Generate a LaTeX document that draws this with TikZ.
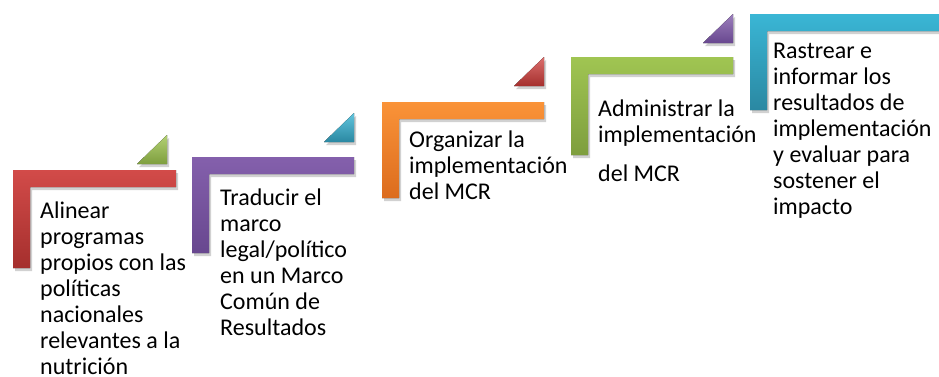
\documentclass[tikz,border=0pt]{standalone}
\usepackage{fontspec}
\setmainfont{Carlito}
\usetikzlibrary{shadows}
\definecolor{redT}{HTML}{D24B49}\definecolor{redB}{HTML}{A52F2D}
\definecolor{purT}{HTML}{8460AC}\definecolor{purB}{HTML}{68478F}
\definecolor{oraT}{HTML}{FA9338}\definecolor{oraB}{HTML}{DC6C1E}
\definecolor{griT}{HTML}{A0C552}\definecolor{griB}{HTML}{7E9E3E}
\definecolor{cyaT}{HTML}{3AB6D5}\definecolor{cyaB}{HTML}{2A88A2}
\tikzset{
  corner/.style={draw=none, drop shadow={shadow xshift=2pt, shadow yshift=-3pt, opacity=0.3, fill=black!60}},
  tri/.style={draw=none, drop shadow={shadow xshift=2pt, shadow yshift=-3pt, opacity=0.3, fill=black!60}},
  label/.style={anchor=base west, inner sep=0pt, font=\fontsize{24}{26}\selectfont}
}
\newcommand{\stepL}[5]{% x0,y0,x1,y1,colorname
  \fill[corner, top color=#5T, bottom color=#5B] (#1,#2) -- (#3,#2) -- (#3,#2+17) -- (#1+17,#2+17) -- (#1+17,#4) -- (#1,#4) -- cycle;}
\newcommand{\stepT}[3]{% right x, bottom y, color
  \fill[tri, top color=#3T!80!white, bottom color=#3B] (#1-30,#2) -- (#1,#2) -- (#1,#2-29) -- cycle;}
\newcommand{\blk}[1]{\parbox[t]{7cm}{\raggedright #1}}
\begin{document}
\begin{tikzpicture}[x=1pt,y=-1pt]
\useasboundingbox (0,0) rectangle (939,376);
\begin{scope}
\clip (0,0) rectangle (939,376);
% corner bars
\stepL{13}{170}{176}{268}{red}
\stepL{192}{157}{354}{253}{pur}
\stepL{382}{102}{544}{198}{ora}
\stepL{571}{57}{733}{155}{gri}
\stepL{750}{14}{939}{110}{cya}
% triangles
\stepT{167}{164}{gri}
\stepT{354}{142}{cya}
\stepT{544}{86}{red}
\stepT{733}{43}{pur}
% texts
\node[label] (t1) at (40,218) {\blk{Alinear\\programas\\propios con las\\políticas\\nacionales\\relevantes a la\\nutrición}};
\node[label] (t2) at (220,205) {\blk{Traducir el\\marco\\legal/político\\en un Marco\\Común de\\Resultados}};
\node[label] (t3) at (409,147) {\blk{Organizar la\\implementación\\del MCR}};
\node[label] (t4) at (598,116) {\blk{Administrar la\\implementación\\[13pt]del MCR}};
\node[label] (t5) at (773,58) {\blk{Rastrear e\\informar los\\resultados de\\implementación\\y evaluar para\\sostener el\\impacto}};
\end{scope}
\end{tikzpicture}
\end{document}
